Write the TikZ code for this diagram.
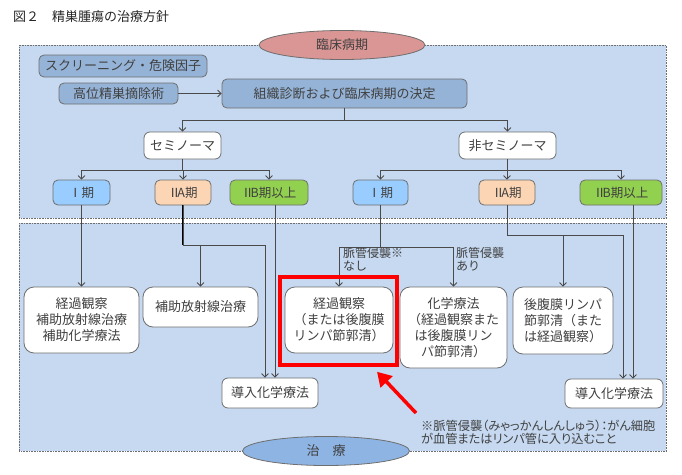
\documentclass[tikz,border=0pt]{standalone}
\usepackage{fontspec}
\setmainfont{Noto Sans CJK JP}
\usetikzlibrary{arrows.meta,shapes.geometric}
\definecolor{panel}{HTML}{C6D9F1}
\definecolor{dkbox}{HTML}{95B3D7}
\definecolor{bord}{HTML}{6E6E6E}
\definecolor{txt}{HTML}{404040}
\definecolor{ellR}{HTML}{D99694}
\definecolor{ellB}{HTML}{8EB4E3}
\definecolor{stI}{HTML}{99CCFF}
\definecolor{stIIA}{HTML}{FCD5B5}
\definecolor{stIIB}{HTML}{92D050}
\definecolor{lin}{HTML}{4A4A4A}
\newcommand\romII{Ⅱ\kern-3.5pt}
\begin{document}
\begin{tikzpicture}[x=1pt,y=-1pt,
  box/.style={draw=bord, line width=0.8pt, rounded corners=6pt, align=center, inner sep=0pt, text=txt, font=\fontsize{13}{16}\selectfont},
  dbox/.style={box, fill=dkbox, rounded corners=5pt},
  wbox/.style={box, fill=white, rounded corners=10pt},
  sbox/.style={box, rounded corners=5pt, minimum height=25pt, font=\fontsize{12.5}{15}\selectfont},
  arr/.style={draw=lin, line width=0.8pt, -{Straight Barb[length=3.5pt,width=7pt]}},
  ln/.style={draw=lin, line width=0.8pt},
  panelbox/.style={fill=panel, draw=bord, line width=0.6pt, densely dotted, inner sep=0pt},
  ell/.style={ellipse, draw=bord, line width=0.8pt, inner sep=0pt, text=txt, font=\fontsize{13}{15}\selectfont},
  lbl/.style={anchor=north west, align=left, inner sep=0pt, text=txt, font=\fontsize{12}{13.5}\selectfont},
]
\useasboundingbox (0,0) rectangle (682,474);

\node[anchor=west, font=\fontsize{13}{15}\selectfont, text=black!85, inner sep=0pt] (title) at (13,17) {図２　精巣腫瘍の治療方針};

% panels
\node[panelbox, minimum width=647, minimum height=173, anchor=north west] (ptop) at (19,45) {};
\node[panelbox, minimum width=647, minimum height=228, anchor=north west] (pbot) at (19,223) {};

\node[ell, fill=ellR, minimum width=166, minimum height=29] (rinsho) at (342,45) {臨床病期};
\node[ell, fill=ellB, minimum width=167, minimum height=29] (chiryo) at (326,451) {治　療};

% top boxes
\node[dbox, minimum width=168, minimum height=22] (screen) at (123,66) {スクリーニング・危険因子};
\node[dbox, minimum width=119, minimum height=21] (takai) at (118.5,93.5) {高位精巣摘除術};
\node[dbox, minimum width=245, minimum height=29] (soshiki) at (344.5,93.5) {組織診断および臨床病期の決定};
\node[box, fill=white, minimum width=77, minimum height=27] (semi) at (182.5,145.5) {セミノーマ};
\node[box, fill=white, minimum width=97, minimum height=27] (nonsemi) at (507.5,145.5) {非セミノーマ};

% stage boxes
\node[sbox, fill=stI, minimum width=57] (sI) at (81.5,192.5) {Ⅰ期};
\node[sbox, fill=stIIA, minimum width=56] (sIIA) at (183,192.5) {\romII A期};
\node[sbox, fill=stIIB, minimum width=78] (sIIB) at (269,192.5) {\romII B期以上};
\node[sbox, fill=stI, minimum width=55] (nI) at (380.5,192.5) {Ⅰ期};
\node[sbox, fill=stIIA, minimum width=56] (nIIA) at (507,192.5) {\romII A期};
\node[sbox, fill=stIIB, minimum width=82] (nIIB) at (621,192.5) {\romII B期以上};

% result boxes
\node[wbox, minimum width=115, minimum height=66] (r1) at (81.5,320) {経過観察\\補助放射線治療\\補助化学療法};
\node[wbox, minimum width=115, minimum height=40] (r2) at (200.5,307) {補助放射線治療};
\node[box, fill=white, minimum width=96, minimum height=30] (ind1) at (270,393) {導入化学療法};
\node[wbox, minimum width=108, minimum height=66] (r3) at (339,320) {経過観察\\（または後腹膜\\リンパ節郭清）};
\node[wbox, minimum width=107, minimum height=81] (r4) at (453.5,327.5) {化学療法\\（経過観察また\\は後腹膜リン\\パ節郭清）};
\node[wbox, minimum width=100, minimum height=67] (r5) at (563,320.5) {後腹膜リンパ\\節郭清（また\\は経過観察）};
\node[box, fill=white, minimum width=98, minimum height=29] (ind2) at (614,393.5) {導入化学療法};

\coordinate (i1a) at ([xshift=-5pt]ind1.north);
\coordinate (i1b) at ([xshift=5pt]ind1.north);
\coordinate (i2a) at ([xshift=9pt]ind2.north);
\coordinate (i2b) at ([xshift=19pt]ind2.north);

% labels
\node[lbl] (lblA) at (343,247) {脈管侵襲※\\なし};
\node[lbl] (lblB) at (456,247) {脈管侵襲\\あり};
\node[anchor=north west, align=left, inner sep=0pt, text=txt, font=\fontsize{12.2}{13}\selectfont\addfontfeatures{RawFeature=+palt}] (note) at (421,420) {※脈管侵襲（みゃっかんしんしゅう）：がん細胞\\が血管またはリンパ管に入り込むこと};

% connectors
\draw[arr] (takai) -- (soshiki);
\draw[arr] (soshiki.south) -- ++(0,12) -| (semi.north);
\draw[arr] (soshiki.south) -- ++(0,12) -| (nonsemi.north);
\draw[arr] (semi.south) -- ++(0,11) -| (sI.north);
\draw[arr] (semi.south) -- ++(0,11) -| (sIIA.north);
\draw[arr] (semi.south) -- ++(0,11) -| (sIIB.north);
\draw[arr] (nonsemi.south) -- ++(0,11) -| (nI.north);
\draw[arr] (nonsemi.south) -- ++(0,11) -| (nIIA.north);
\draw[arr] (nonsemi.south) -- ++(0,11) -| (nIIB.north);

\draw[arr] (sI) -- (r1);
\draw[ln, draw=black, line width=1.4pt] (sIIA.south) -- (sIIA.south |- 0,245);
\draw[arr] (sIIA.south) |- (i1a |- 0,245) -- (i1a);
\draw[arr] (r2.north |- 0,245) -- (r2.north);
\draw[arr] (i1b |- sIIB.south) -- (i1b);

\draw[ln] (nI.south) -- ++(0,42) coordinate (nIj);
\draw[arr] (nIj) -| (r3.north);
\draw[arr] (nIj) -| (r4.north);
\draw[arr] (nIIA.south) |- (i2a |- 0,235) -- (i2a);
\draw[arr] (r5.north |- 0,235) -- (r5.north);
\draw[arr] (i2b |- nIIB.south) -- (i2b);

% highlight
\node[draw=red, line width=3.5pt, minimum width=117, minimum height=88, inner sep=0pt] (hl) at (338.5,321) {};
\coordinate (redtail) at (416,413);
\draw[red, line width=3.5pt, -{Triangle[length=14pt,width=16pt]}] (redtail) -- ([xshift=38.5pt,yshift=-5pt]hl.south);
\end{tikzpicture}
\end{document}
